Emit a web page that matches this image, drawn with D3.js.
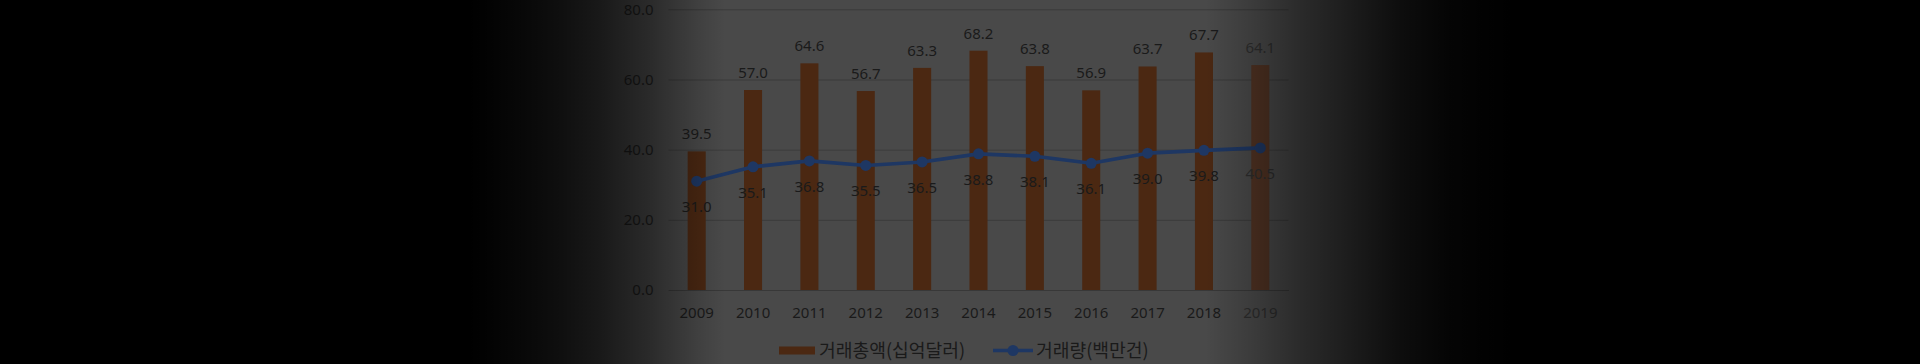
<!DOCTYPE html>
<html>
<head>
<meta charset="utf-8">
<script src="https://cdn.jsdelivr.net/npm/d3@7"></script>
<style>
  html, body { margin: 0; padding: 0; background: #000; }
  svg { display: block; }
</style>
</head>
<body>
<svg width="1920" height="364"></svg>
<script>
// chart data
const years = ["2009", "2010", "2011", "2012", "2013", "2014", "2015", "2016", "2017", "2018", "2019"];
const amount = [39.5, 57.0, 64.6, 56.7, 63.3, 68.2, 63.8, 56.9, 63.7, 67.7, 64.1];
const volume = [31.0, 35.1, 36.8, 35.5, 36.5, 38.8, 38.1, 36.1, 39.0, 39.8, 40.5];
const yTicks = [0, 20, 40, 60, 80];
const seriesNames = ["거래총액(십억달러)", "거래량(백만건)"];
const lastYear = "2019"; // drawn lighter in the source

// define constants
const svg = d3.select("svg");
const width = +svg.attr("width");
const height = +svg.attr("height");

const plot = { left: 668.5, right: 1288.5, top: 9.3, bottom: 290 };
const numFont = "'Noto Sans', 'Open Sans', sans-serif";
const krFont = "'Noto Sans CJK KR', 'Noto Sans', sans-serif";
const numSize = "15px";
const textColor = (yr) => yr === lastYear ? "#2e2e2e" : "#1a1a1a";
const barColor = (yr) => yr === lastYear ? "#513323" : "#4b2812";
const lineColor = "#1e3763";
const fmt = d3.format(".1f");

const rows = years.map((y, i) => ({ year: y, amount: amount[i], volume: volume[i] }));

// background
svg.append("rect")
  .attr("width", width)
  .attr("height", height)
  .attr("fill", "#494949");

const x = d3.scaleBand()
  .domain(years)
  .range([plot.left, plot.right])
  .paddingInner(0.68)
  .paddingOuter(0.34);

const y = d3.scaleLinear()
  .domain([0, 80])
  .range([plot.bottom, plot.top]);

const cx = (d) => x(d) + x.bandwidth() / 2;

// gridlines + y labels
const yAxis = d3.axisLeft(y)
  .tickValues(yTicks)
  .tickSize(-(plot.right - plot.left))
  .tickPadding(15)
  .tickFormat(fmt);

const gy = svg.append("g")
  .attr("transform", `translate(${plot.left},0)`)
  .call(yAxis);
gy.select(".domain").remove();
gy.selectAll(".tick line").attr("stroke", "#3b3b3b").attr("stroke-width", 1);
gy.selectAll(".tick text")
  .attr("fill", "#1f1f1f")
  .style("font-family", numFont)
  .style("font-size", numSize);

// x labels
const xAxis = d3.axisBottom(x).tickSize(0).tickPadding(17);
const gx = svg.append("g")
  .attr("transform", `translate(0,${plot.bottom})`)
  .call(xAxis);
gx.select(".domain").attr("stroke", "#383838");
gx.selectAll(".tick text")
  .attr("fill", (d) => textColor(d))
  .style("font-family", numFont)
  .style("font-size", numSize);

// bars
svg.append("g").selectAll("rect")
  .data(rows)
  .enter().append("rect")
    .attr("x", (d) => x(d.year))
    .attr("y", (d) => y(d.amount))
    .attr("width", x.bandwidth())
    .attr("height", (d) => y(0) - y(d.amount))
    .attr("fill", (d) => barColor(d.year));

svg.append("g").selectAll("text")
  .data(rows)
  .enter().append("text")
    .attr("x", (d) => cx(d.year))
    .attr("y", (d) => y(d.amount) - 12)
    .attr("text-anchor", "middle")
    .attr("fill", (d) => textColor(d.year))
    .style("font-family", numFont)
    .style("font-size", numSize)
    .text((d) => fmt(d.amount));

// line
const line = d3.line()
  .x((d) => cx(d.year))
  .y((d) => y(d.volume));

svg.append("path")
  .datum(rows)
  .attr("d", line)
  .attr("fill", "none")
  .attr("stroke", lineColor)
  .attr("stroke-width", 3.6)
  .attr("stroke-linejoin", "round");

svg.append("g").selectAll("circle")
  .data(rows)
  .enter().append("circle")
    .attr("cx", (d) => cx(d.year))
    .attr("cy", (d) => y(d.volume))
    .attr("r", 5.5)
    .attr("fill", lineColor);

svg.append("g").selectAll("text")
  .data(rows)
  .enter().append("text")
    .attr("x", (d) => cx(d.year))
    .attr("y", (d) => y(d.volume) + 31)
    .attr("text-anchor", "middle")
    .attr("fill", (d) => textColor(d.year))
    .style("font-family", numFont)
    .style("font-size", numSize)
    .text((d) => fmt(d.volume));

// legend
const legendY = 350.5;
const lg = svg.append("g");
lg.append("rect")
  .attr("x", 779).attr("y", legendY - 4)
  .attr("width", 36).attr("height", 8)
  .attr("fill", barColor(years[0]));
lg.append("text")
  .attr("x", 819).attr("y", legendY)
  .attr("dy", "0.36em")
  .attr("fill", "#1a1a1a")
  .style("font-family", krFont)
  .style("font-size", "18.2px")
  .text(seriesNames[0]);
lg.append("line")
  .attr("x1", 993).attr("x2", 1033)
  .attr("y1", legendY).attr("y2", legendY)
  .attr("stroke", lineColor).attr("stroke-width", 3.6);
lg.append("circle")
  .attr("cx", 1013).attr("cy", legendY).attr("r", 5.5)
  .attr("fill", lineColor);
lg.append("text")
  .attr("x", 1036).attr("y", legendY)
  .attr("dy", "0.36em")
  .attr("fill", "#1a1a1a")
  .style("font-family", krFont)
  .style("font-size", "18.2px")
  .text(seriesNames[1]);

// dark vignette on both sides
const shadeStops = [
  [0, 1], [470, 1], [520, 0.9], [560, 0.8], [600, 0.66], [650, 0.42],
  [700, 0.12], [725, 0], [1205, 0], [1250, 0.18], [1300, 0.42], [1350, 0.62],
  [1400, 0.82], [1450, 0.94], [1510, 1], [1920, 1]
];
const grad = svg.append("defs").append("linearGradient")
  .attr("id", "shade")
  .attr("gradientUnits", "userSpaceOnUse")
  .attr("x1", 0).attr("x2", width)
  .attr("y1", 0).attr("y2", 0);
grad.selectAll("stop")
  .data(shadeStops)
  .enter().append("stop")
    .attr("offset", (d) => d[0] / width)
    .attr("stop-color", "#000")
    .attr("stop-opacity", (d) => d[1]);

svg.append("rect")
  .attr("width", width)
  .attr("height", height)
  .attr("fill", "url(#shade)");
</script>
</body>
</html>
